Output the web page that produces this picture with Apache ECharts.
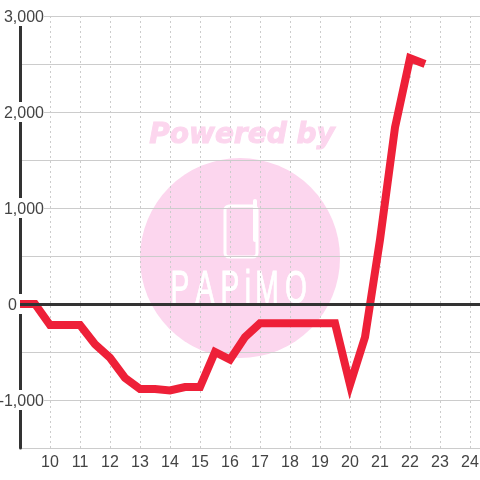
<!DOCTYPE html>
<html>
<head>
<meta charset="utf-8">
<style>html,body{margin:0;padding:0;background:#fff}#main{width:480px;height:480px}</style>
<script src="https://cdn.jsdelivr.net/npm/echarts@6/dist/echarts.min.js"></script>
</head>
<body>
<div id="main"></div>
<script>
var hours = [9, 9.5, 10, 10.5, 11, 11.5, 12, 12.5, 13, 13.5, 14, 14.5, 15, 15.5, 16, 16.5, 17, 17.5, 18, 18.5, 19, 19.5, 20, 20.5, 21, 21.5, 22, 22.5];
var values = [0, 0, -220, -220, -220, -420, -560, -770, -885, -885, -900, -865, -865, -500, -580, -345, -200, -200, -200, -200, -200, -200, -840, -345, 670, 1840, 2560, 2500];
var logoLetters = ['P', 'A', 'P', 'i', 'M', 'O'];
var logoLetterX = [180, 205, 230, 248, 267, 296];

var data = hours.map(function (h, i) { return [h, values[i]]; });
var pink = '#fcd6ee';

// watermark behind the chart
var graphics = [
    { type: 'circle', z: -10, shape: { cx: 240, cy: 258, r: 100 }, style: { fill: pink } },
    { type: 'text', z: -10, style: { x: 242, y: 136, text: 'Powered by', fill: pink, stroke: pink, lineWidth: 1, font: 'italic bold 28px "DejaVu Sans"', align: 'center', verticalAlign: 'middle' } },
    { type: 'rect', z: -9, shape: { x: 225, y: 206, width: 32, height: 51, r: 4 }, style: { fill: 'none', stroke: '#fff', lineWidth: 3 } },
    { type: 'line', z: -9, shape: { x1: 255, y1: 201, x2: 255, y2: 240 }, style: { stroke: '#fff', lineWidth: 4, lineCap: 'round' } }
];
logoLetters.forEach(function (c, i) {
    graphics.push({ type: 'text', z: -9, x: logoLetterX[i], y: 290, scaleX: 0.6, style: { x: 0, y: 0, text: c, fill: '#fff', stroke: '#fff', lineWidth: 1, font: '47px "Liberation Sans"', align: 'center', verticalAlign: 'middle' } });
});

var myChart = echarts.init(document.getElementById('main'), null, { renderer: 'canvas' });
myChart.setOption({
    animation: false,
    backgroundColor: '#fff',
    graphic: graphics,
    grid: { left: 20, right: 0, top: 16, bottom: 32, outerBoundsMode: 'none' },
    xAxis: {
        type: 'value', min: 9, max: 24.333, interval: 1, position: 'bottom',
        axisLine: { show: false },
        axisTick: { show: false },
        axisLabel: {
            fontFamily: 'Liberation Sans', fontSize: 16, color: '#444', margin: 7,
            showMinLabel: false, showMaxLabel: false,
            formatter: function (v) { return v % 1 === 0 && v > 9 ? String(v) : ''; }
        },
        splitLine: { show: true, showMinLine: false, showMaxLine: false, lineStyle: { color: '#ccc', type: [2, 3], width: 1 } }
    },
    yAxis: {
        type: 'value', min: -1500, max: 3000, interval: 500,
        axisLine: { show: true, onZero: false, lineStyle: { color: '#333', width: 3 } },
        axisTick: { show: false },
        axisLabel: {
            fontFamily: 'Liberation Sans', fontSize: 16, color: '#444', margin: -24, align: 'right',
            backgroundColor: '#fff',
            padding: [4, 0, 0, 0],
            formatter: function (v) {
                if (v === 0) return '{z|0}';
                if (v % 1000 !== 0) return '';
                return echarts.format.addCommas(v);
            },
            rich: { z: { fontFamily: 'Liberation Sans', fontSize: 16, color: '#444', padding: [0, 27, 0, 0] } }
        },
        splitLine: { show: true, lineStyle: { color: '#ccc', width: 1 } }
    },
    series: [{
        type: 'line',
        data: data,
        showSymbol: false,
        symbol: 'none',
        clip: false,
        lineStyle: { color: '#ee2038', width: 8, cap: 'butt', join: 'miter' },
        markLine: {
            silent: true, symbol: 'none', label: { show: false },
            lineStyle: { color: '#333', width: 3, type: 'solid' },
            data: [{ yAxis: 0 }]
        }
    }]
});
</script>
</body>
</html>
